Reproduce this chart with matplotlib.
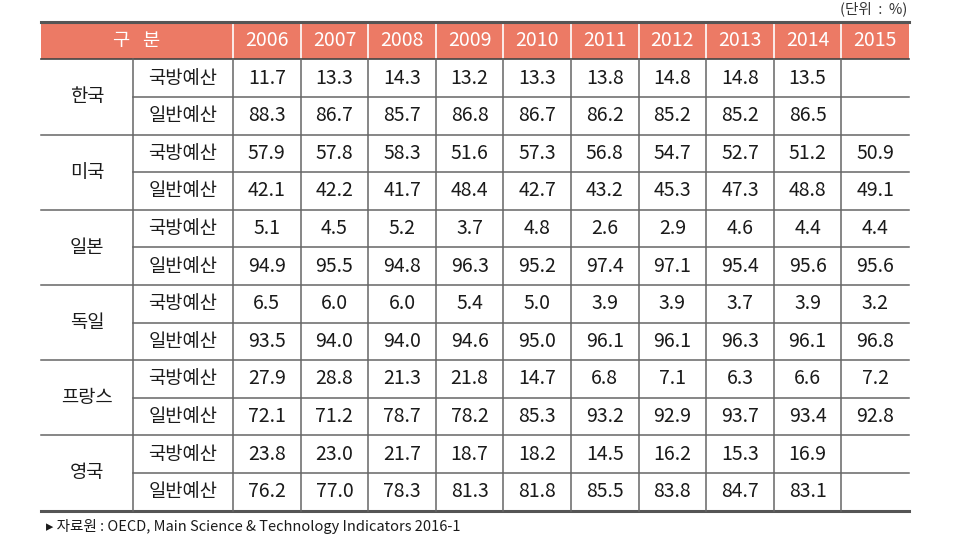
import matplotlib.pyplot as plt

years = ["2006", "2007", "2008", "2009", "2010", "2011", "2012", "2013", "2014", "2015"]
countries = ["한국", "미국", "일본", "독일", "프랑스", "영국"]
kinds = ["국방예산", "일반예산"]

korea_def = ["11.7", "13.3", "14.3", "13.2", "13.3", "13.8", "14.8", "14.8", "13.5", ""]
korea_gen = ["88.3", "86.7", "85.7", "86.8", "86.7", "86.2", "85.2", "85.2", "86.5", ""]
usa_def = ["57.9", "57.8", "58.3", "51.6", "57.3", "56.8", "54.7", "52.7", "51.2", "50.9"]
usa_gen = ["42.1", "42.2", "41.7", "48.4", "42.7", "43.2", "45.3", "47.3", "48.8", "49.1"]
japan_def = ["5.1", "4.5", "5.2", "3.7", "4.8", "2.6", "2.9", "4.6", "4.4", "4.4"]
japan_gen = ["94.9", "95.5", "94.8", "96.3", "95.2", "97.4", "97.1", "95.4", "95.6", "95.6"]
germany_def = ["6.5", "6.0", "6.0", "5.4", "5.0", "3.9", "3.9", "3.7", "3.9", "3.2"]
germany_gen = ["93.5", "94.0", "94.0", "94.6", "95.0", "96.1", "96.1", "96.3", "96.1", "96.8"]
france_def = ["27.9", "28.8", "21.3", "21.8", "14.7", "6.8", "7.1", "6.3", "6.6", "7.2"]
france_gen = ["72.1", "71.2", "78.7", "78.2", "85.3", "93.2", "92.9", "93.7", "93.4", "92.8"]
uk_def = ["23.8", "23.0", "21.7", "18.7", "18.2", "14.5", "16.2", "15.3", "16.9", ""]
uk_gen = ["76.2", "77.0", "78.3", "81.3", "81.8", "85.5", "83.8", "84.7", "83.1", ""]

rows = [korea_def, korea_gen, usa_def, usa_gen, japan_def, japan_gen,
        germany_def, germany_gen, france_def, france_gen, uk_def, uk_gen]

kr_font = ["Noto Sans CJK KR", "DejaVu Sans"]
num_font = ["Noto Sans CJK KR", "DejaVu Sans"]

W, H = 973, 554
fig = plt.figure(figsize=(W / 100, H / 100), dpi=100)
ax = fig.add_axes([0, 0, 1, 1])
ax.set_xlim(0, W)
ax.set_ylim(H, 0)
ax.axis("off")

# table geometry (pixels)
left, right = 41, 909
col_country = 133
col_kind = 233
year_w = (right - col_kind) / len(years)
top, head_bot = 22, 59.3
row_h = 37.6
bottom = head_bot + row_h * len(rows)

line_col = "#666666"
head_col = "#EC7A65"
txt_col = "#1a1a1a"

# header
ax.add_patch(plt.Rectangle((left, top), right - left, head_bot - top,
                           facecolor=head_col, edgecolor="none"))
ax.text((left + col_kind) / 2, (top + head_bot) / 2, "구   분", color="white",
        ha="center", va="center", fontsize=13.5, family=kr_font)
for i, yr in enumerate(years):
    x0 = col_kind + i * year_w
    ax.text(x0 + year_w / 2, (top + head_bot) / 2, yr, color="white",
            ha="center", va="center", fontsize=14, family=num_font)
    ax.plot([x0, x0], [top, head_bot], color="white", lw=1.2)

# body
for r, vals in enumerate(rows):
    yc = head_bot + row_h * (r + 0.5)
    ax.text((col_country + col_kind) / 2, yc, kinds[r % 2], ha="center",
            va="center", fontsize=13.5, family=kr_font, color=txt_col)
    for i, v in enumerate(vals):
        ax.text(col_kind + (i + 0.5) * year_w, yc, v, ha="center", va="center",
                fontsize=14, family=num_font, color=txt_col)

for g, name in enumerate(countries):
    yc = head_bot + row_h * (2 * g + 1)
    ax.text((left + col_country) / 2, yc, name, ha="center", va="center",
            fontsize=13.5, family=kr_font, color=txt_col)

# horizontal lines
for r in range(1, len(rows)):
    y = head_bot + row_h * r
    x_start = left if r % 2 == 0 else col_country
    ax.plot([x_start, right], [y, y], color=line_col, lw=1.1)
ax.plot([left, right], [head_bot, head_bot], color="#444444", lw=1.2)
ax.plot([left, right], [top, top], color="#555555", lw=2.2)
ax.plot([left, right], [bottom, bottom], color="#555555", lw=2.2)

# vertical lines
for x in [col_country, col_kind] + [col_kind + i * year_w for i in range(1, len(years))]:
    ax.plot([x, x], [head_bot, bottom], color=line_col, lw=1.1)

ax.text(right - 2, 9, "(단위  :  %)", ha="right", va="center", fontsize=10.5,
        family=kr_font, color="#333333")
ax.text(46, 526, "▸ 자료원 : OECD, Main Science & Technology Indicators 2016-1",
        ha="left", va="center", fontsize=10.5, family=kr_font, color=txt_col)

plt.savefig("out.png", dpi=100)
plt.close()
